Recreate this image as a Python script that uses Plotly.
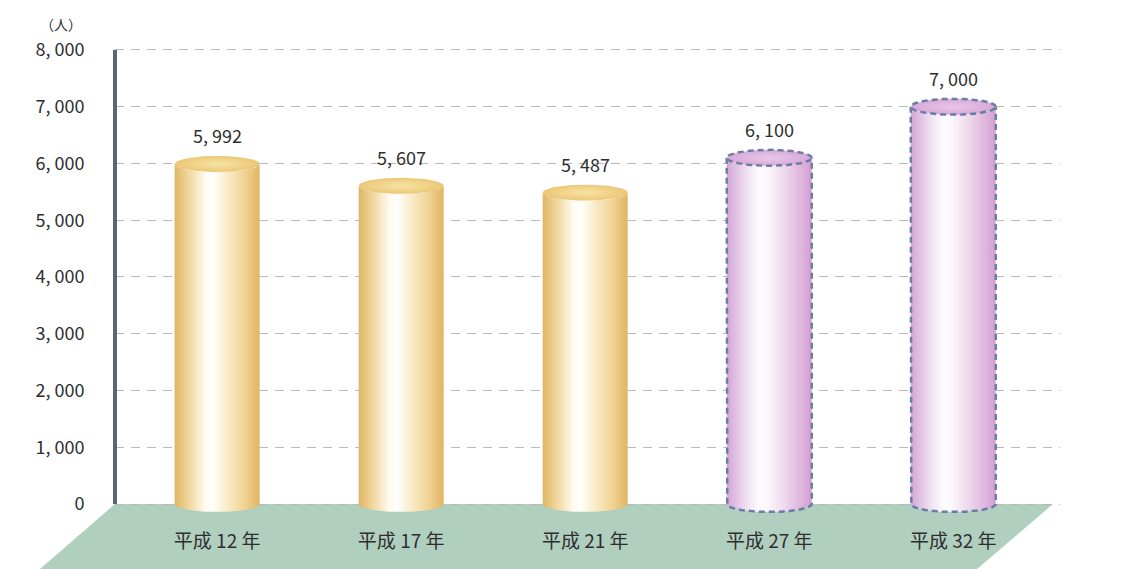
import numpy as np
import plotly.graph_objects as go

# ---- data -------------------------------------------------------------
categories = ["平成 12 年", "平成 17 年", "平成 21 年", "平成 27 年", "平成 32 年"]
values = [5992, 5607, 5487, 6100, 7000]
is_projection = [False, False, False, True, True]
y_ticks = [0, 1000, 2000, 3000, 4000, 5000, 6000, 7000, 8000]
unit_label = "（人）"

# ---- styling ----------------------------------------------------------
Y_MIN, Y_MAX = -282, 8176
X_MIN, X_MAX = -0.555, 4.58
HALF_W = 0.231          # cylinder half width (category units)
RIM = 141               # half height of the elliptic caps (value units)
FONT = "Noto Sans CJK JP"
TEXT_COLOR = "#2e2e2e"

gold_body = [[0.0, "#e0b564"], [0.10, "#ebca86"], [0.24, "#f6e4bc"],
             [0.36, "#fffbf2"], [0.46, "#fffefa"], [0.62, "#f9ebc8"],
             [0.82, "#f0d395"], [1.0, "#e1b562"]]
gold_cap = [[0.0, "#f7e3a6"], [0.7, "#f0d084"], [1.0, "#ebc677"]]
purple_body = [[0.0, "#d2a6d6"], [0.12, "#e2c3e4"], [0.26, "#f3e6f4"],
               [0.38, "#fefbfe"], [0.48, "#fcf7fc"], [0.66, "#efdcee"],
               [0.86, "#e0b8de"], [1.0, "#d39fd2"]]
purple_cap = [[0.0, "#e8c8e8"], [1.0, "#d8a8d8"]]
DASH_COLOR = "#6b7da6"


def tick_text(v):
    return f"{v:,}".replace(",", ", ")


fig = go.Figure()

t = np.linspace(0, np.pi, 60)
for i, (v, proj) in enumerate(zip(values, is_projection)):
    # lower half arc from left to right (front edge of an ellipse)
    arc_x = i - HALF_W * np.cos(t)
    arc_dy = -RIM * np.sin(t)

    # body: left side up, front arc of the top cap, right side down,
    # front arc of the bottom back to the start
    bx = np.concatenate([[i - HALF_W], arc_x, [i + HALF_W], arc_x[::-1]])
    by = np.concatenate([[0], v + arc_dy, [0], arc_dy[::-1]])
    fig.add_trace(go.Scatter(
        x=bx, y=by, mode="lines", fill="toself",
        fillgradient=dict(type="horizontal",
                          colorscale=purple_body if proj else gold_body),
        line=dict(width=0), hoverinfo="skip", showlegend=False))

    if proj:
        # dashed outline around the sides and the bottom
        ox = np.concatenate([[i - HALF_W], arc_x, [i + HALF_W]])
        oy = np.concatenate([[v], arc_dy, [v]])
        fig.add_trace(go.Scatter(
            x=ox, y=oy, mode="lines",
            line=dict(color=DASH_COLOR, width=2.5, dash="6px,4px"),
            hoverinfo="skip", showlegend=False))

    # top cap
    tt = np.linspace(0, 2 * np.pi, 120)
    cx = i + HALF_W * np.cos(tt)
    cy = v + RIM * np.sin(tt)
    fig.add_trace(go.Scatter(
        x=cx, y=cy, mode="lines", fill="toself",
        fillgradient=dict(type="radial",
                          colorscale=purple_cap if proj else gold_cap),
        line=dict(color=DASH_COLOR if proj else "rgba(0,0,0,0)",
                  width=2.5 if proj else 0, dash="6px,4px"),
        hoverinfo="skip", showlegend=False))

    # value label above the cap
    fig.add_annotation(x=i, y=v, yref="y", xref="x", text=tick_text(v),
                       showarrow=False, xanchor="center", yanchor="bottom",
                       yshift=14,
                       font=dict(family=FONT, size=18, color=TEXT_COLOR))

# floor slab, placed relative to the value-axis zero
zero_p = (0 - Y_MIN) / (Y_MAX - Y_MIN)
floor_bottom = zero_p - 65 / 480
fig.add_shape(type="path", xref="paper", yref="paper", layer="below",
              path=(f"M 0 {zero_p} L 0.9926 {zero_p} "
                    f"L 0.9122 {floor_bottom} L -0.0794 {floor_bottom} Z"),
              fillcolor="#b0cfbf", line=dict(width=0))

# vertical axis bar
fig.add_shape(type="line", xref="paper", yref="y", x0=0, x1=0,
              y0=y_ticks[0], y1=y_ticks[-1],
              line=dict(color="#5b6678", width=4))

fig.add_annotation(xref="paper", yref="paper", x=-0.057, y=1.033,
                   xanchor="center", yanchor="middle",
                   text=unit_label, showarrow=False,
                   font=dict(family=FONT, size=14, color=TEXT_COLOR))

fig.update_layout(
    width=1136, height=569,
    margin=dict(l=115, r=76, t=40, b=49),
    paper_bgcolor="#ffffff", plot_bgcolor="rgba(0,0,0,0)",
    xaxis=dict(range=[X_MIN, X_MAX], tickvals=list(range(len(categories))),
               ticktext=categories, showgrid=False, zeroline=False,
               showline=False, ticks="outside", ticklen=4,
               tickcolor="rgba(0,0,0,0)",
               tickfont=dict(family=FONT, size=19, color=TEXT_COLOR)),
    yaxis=dict(range=[Y_MIN, Y_MAX], tickvals=y_ticks,
               ticktext=[tick_text(v) for v in y_ticks],
               showgrid=True, gridcolor="#b9b9b9", gridwidth=1.2,
               griddash="9px,7px", zeroline=False, showline=False,
               ticks="outside", ticklen=26, tickcolor="rgba(0,0,0,0)",
               tickfont=dict(family=FONT, size=18, color=TEXT_COLOR)),
)

fig.write_html("out.html")
